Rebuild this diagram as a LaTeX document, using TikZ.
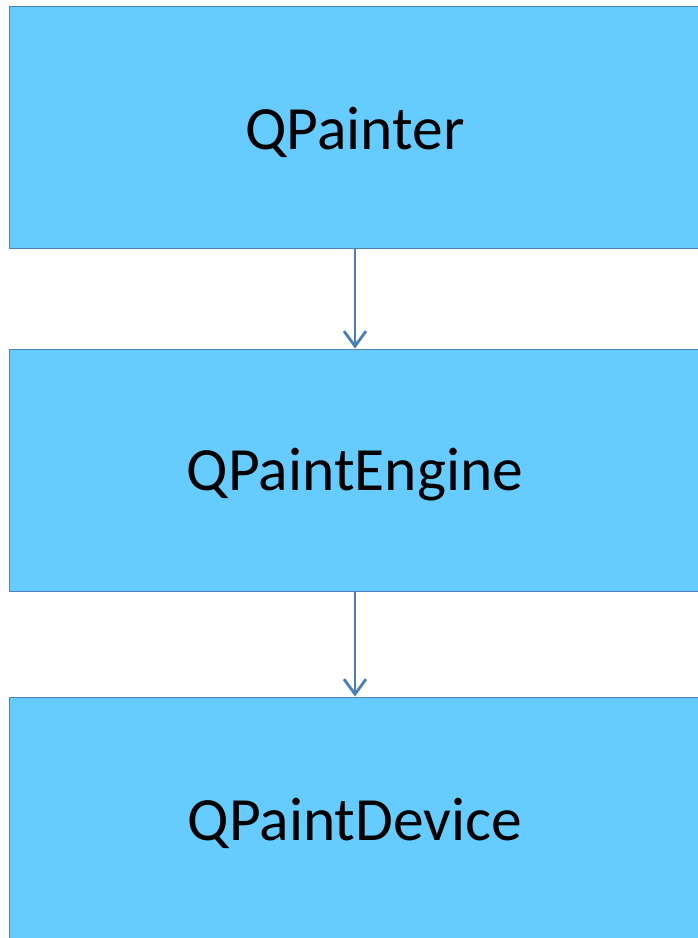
\documentclass[tikz,border=0pt]{standalone}
\usepackage{fontspec}
\setmainfont{Carlito}
\usepackage{tikz}
\usetikzlibrary{arrows.meta}

\definecolor{boxfill}{RGB}{102,204,255}
\definecolor{boxline}{RGB}{79,129,189}
\definecolor{arrowline}{RGB}{74,126,187}

\begin{document}
\begin{tikzpicture}[x=1pt,y=1pt]
	\useasboundingbox (0,0) rectangle (698,-938);
	\tikzset{layer/.style={shape=rectangle,fill=boxfill,draw=boxline,line width=1pt,
			minimum width=692pt,minimum height=242pt,inner sep=0pt,
			font=\fontsize{61.5}{72}\selectfont},
		flow/.style={-{Straight Barb[length=15pt,width=22pt]},line width=2.8pt,draw=arrowline}}
	\node[layer] (painter) at (355,-127) {\raisebox{-5pt}[\height][\depth]{QPainter}};
	\node[layer] (engine) at (355,-470) {\raisebox{-5pt}[\height][\depth]{QPaintEngine}};
	\node[layer] (device) at (355,-818) {\raisebox{-5pt}[\height][\depth]{QPaintDevice}};
	
	\draw[flow] (painter) -- (engine);
	\draw[flow] (engine) -- (device);
\end{tikzpicture}
\end{document}
